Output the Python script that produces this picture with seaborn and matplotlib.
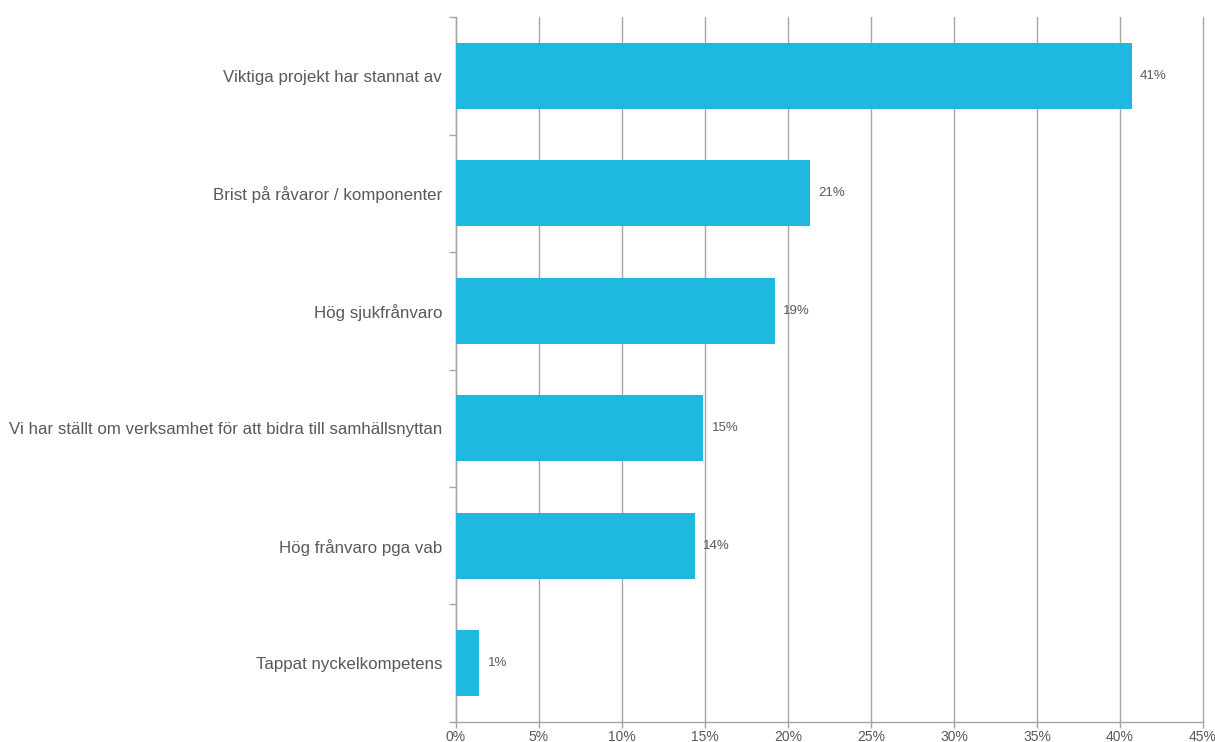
import numpy as np
import pandas as pd
import seaborn as sns
import matplotlib.pyplot as plt
from matplotlib.ticker import FixedLocator

categories = ['Viktiga projekt har stannat av',
              'Brist på råvaror / komponenter',
              'Hög sjukfrånvaro',
              'Vi har ställt om verksamhet för att bidra till samhällsnyttan',
              'Hög frånvaro pga vab',
              'Tappat nyckelkompetens']
values = [40.7, 21.3, 19.2, 14.9, 14.4, 1.4]
labels = ['41%', '21%', '19%', '15%', '14%', '1%']
xticks = [0, 5, 10, 15, 20, 25, 30, 35, 40, 45]

df = pd.DataFrame({'cat': categories, 'val': values})

sns.set_style('white')
plt.rcParams['font.family'] = ['Liberation Sans', 'DejaVu Sans']

grey = '#a6a6a6'
txt = '#595959'

fig = plt.figure(figsize=(12.15, 7.42), dpi=100)
ax = fig.add_axes([0.3753, 0.027, 0.6148, 0.950])

sns.barplot(data=df, x='val', y='cat', color='#1fb8e0', width=0.56,
            saturation=1, linewidth=0, ax=ax, zorder=3)

for c in ax.containers:
    ax.bar_label(c, labels=labels, padding=6, fontsize=9.5, color=txt)

ax.set_xlim(0, 45)
ax.set_ylim(5.5, -0.5)
ax.set_xticks(xticks)
ax.set_xticklabels([f'{t}%' for t in xticks], fontsize=10, color=txt)
ax.grid(axis='x', color=grey, lw=1, zorder=0)
ax.grid(axis='y', visible=False)
for gl in ax.get_xgridlines():
    gl.set_clip_on(False)

ax.yaxis.set_minor_locator(FixedLocator(np.arange(-0.5, 6, 1)))
ax.tick_params(axis='y', which='major', length=0, pad=10, labelsize=12.15, labelcolor=txt)
ax.tick_params(axis='y', which='minor', length=5, color=grey, width=1, left=True)
ax.tick_params(axis='x', which='major', length=4, color=grey, width=1, bottom=True, pad=2)

ax.set_xlabel('')
ax.set_ylabel('')
for s in ['top', 'right']:
    ax.spines[s].set_visible(False)
for s in ['left', 'bottom']:
    ax.spines[s].set_color(grey)
    ax.spines[s].set_linewidth(1)

plt.savefig('out.png', dpi=100)
